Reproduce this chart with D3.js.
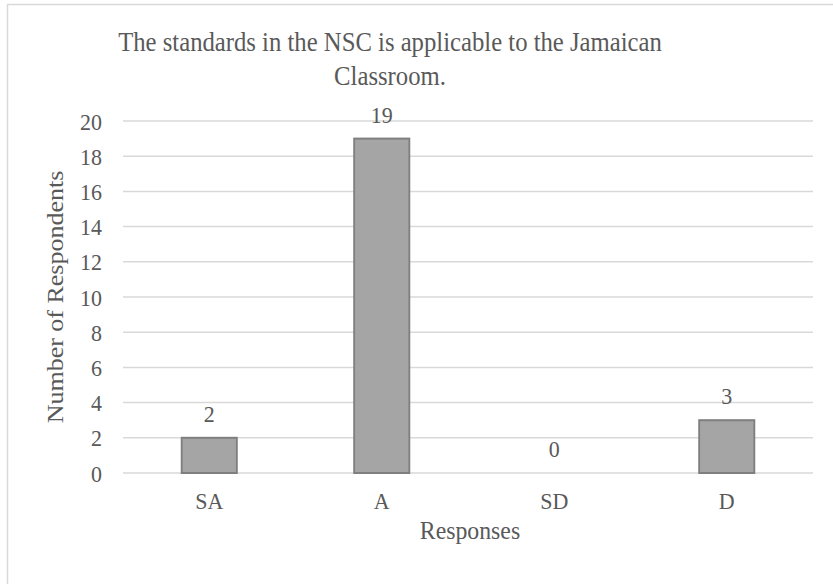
<!DOCTYPE html>
<html>
<head>
<meta charset="utf-8">
<script src="https://cdn.jsdelivr.net/npm/d3@7"></script>
<style>
  html, body { margin: 0; padding: 0; background: #fff; }
</style>
</head>
<body>
<svg id="chart" width="833" height="584"></svg>
<script>
// Survey responses for the NSC standards question
const categories = ["SA", "A", "SD", "D"];
const respondents = [2, 19, 0, 3];
const yTicks = [0, 2, 4, 6, 8, 10, 12, 14, 16, 18, 20];
const titleLines = ["The standards in the NSC is applicable to the Jamaican", "Classroom."];

const FONT = "'Liberation Serif', 'Times New Roman', serif";
const TEXT = "#595959";
const GRID = "#d9d9d9";
const SX = 0.915;                 // narrow horizontal text setting
const px = v => v / SX;           // page x -> drawing x

const svg = d3.select("#chart");

// outer chart frame
svg.append("rect")
  .attr("x", 7.5).attr("y", 4.5)
  .attr("width", 840).attr("height", 600)
  .attr("fill", "none").attr("stroke", GRID).attr("stroke-width", 1.5);

const root = svg.append("g")
  .attr("transform", `scale(${SX},1)`)
  .attr("font-family", FONT)
  .attr("fill", TEXT);

const plot = { left: px(123), right: px(813), top: 121, bottom: 473 };

const x = d3.scaleBand().domain(categories)
  .range([plot.left, plot.right]).paddingInner(0.68).paddingOuter(0.34);
const y = d3.scaleLinear().domain([0, 20]).range([plot.bottom, plot.top]);

// gridlines
root.append("g").selectAll("line").data(yTicks).join("line")
  .attr("x1", plot.left).attr("x2", plot.right)
  .attr("y1", d => y(d)).attr("y2", d => y(d))
  .attr("stroke", GRID).attr("stroke-width", 1.5);

// y axis labels
const yg = root.append("g")
  .attr("transform", `translate(${px(102)},0)`)
  .call(d3.axisLeft(y).tickValues(yTicks).tickSize(0).tickPadding(0));
yg.attr("font-family", FONT).attr("font-size", 24);
yg.select(".domain").remove();
yg.selectAll("text").attr("fill", TEXT).attr("dy", "0.34em");

// x axis labels
const xg = root.append("g")
  .attr("transform", `translate(0,${plot.bottom})`)
  .call(d3.axisBottom(x).tickSize(0).tickPadding(0));
xg.attr("font-family", FONT).attr("font-size", 24);
xg.select(".domain").remove();
xg.selectAll("text").attr("fill", TEXT).attr("dy", 0).attr("y", 36);

// bars
root.append("g").selectAll("rect")
  .data(categories.map((c, i) => ({ c, v: respondents[i] })).filter(d => d.v > 0))
  .join("rect")
  .attr("x", d => x(d.c))
  .attr("y", d => y(d.v))
  .attr("width", x.bandwidth())
  .attr("height", d => y(0) - y(d.v))
  .attr("fill", "#a5a5a5").attr("stroke", "#7f7f7f").attr("stroke-width", 2);

// value labels
root.append("g").selectAll("text")
  .data(categories.map((c, i) => ({ c, v: respondents[i] })))
  .join("text")
  .attr("x", d => x(d.c) + x.bandwidth() / 2)
  .attr("y", d => y(d.v) - 16)
  .attr("text-anchor", "middle").attr("font-size", 24)
  .text(d => d.v);

// title
root.append("g").selectAll("text").data(titleLines).join("text")
  .attr("x", px(390))
  .attr("y", (d, i) => 51 + i * 34)
  .attr("text-anchor", "middle").attr("font-size", 27)
  .text(d => d);

// axis titles
root.append("text")
  .attr("x", px(470))
  .attr("y", 539)
  .attr("text-anchor", "middle").attr("font-size", 26)
  .text("Responses");

root.append("text")
  .attr("transform", `translate(${px(63)},${(plot.top + plot.bottom) / 2}) rotate(-90)`)
  .attr("text-anchor", "middle").attr("font-size", 26)
  .text("Number of Respondents");
</script>
</body>
</html>
